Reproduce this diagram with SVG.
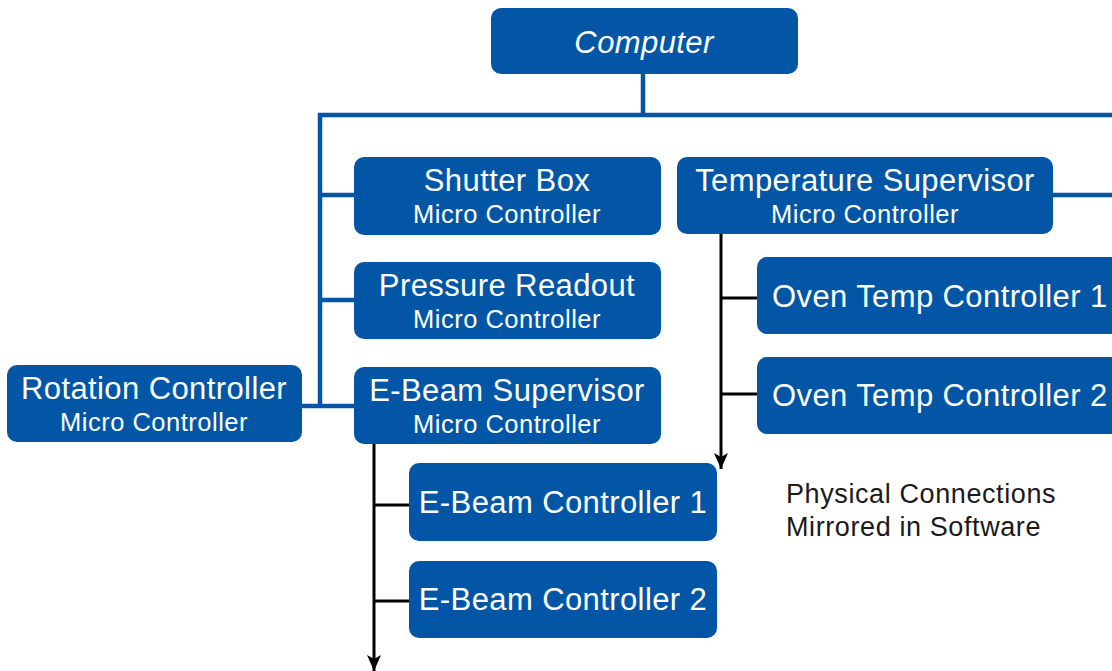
<svg xmlns="http://www.w3.org/2000/svg" width="1112" height="671" viewBox="0 0 1112 671">
<style>
.box{fill:#0256a5;}
.t{font-family:"Liberation Sans",Arial,sans-serif;fill:#fff;text-anchor:middle;}
.title{font-size:31px;letter-spacing:0.4px;}
.sub{font-size:25.5px;letter-spacing:0.5px;}
.blue{stroke:#0256a5;stroke-width:4.5;fill:none;}
.blk{stroke:#000;stroke-width:3;fill:none;}
.note{font-family:"Liberation Sans",Arial,sans-serif;font-size:27px;letter-spacing:0.6px;fill:#1a1a1a;}
</style>
<defs>
<marker id="arr" markerUnits="userSpaceOnUse" markerWidth="16" markerHeight="14" refX="16" refY="7" orient="auto">
<path d="M0,0 L16,7 L0,14 L4,7 Z" fill="#000"/>
</marker>
</defs>
<rect width="1112" height="671" fill="#fff"/>
<g id="connectors">
<line class="blue" x1="643" y1="74" x2="643" y2="115"/>
<line class="blue" x1="318" y1="115" x2="1112" y2="115"/>
<line class="blue" x1="320" y1="113" x2="320" y2="408"/>
<line class="blue" x1="320" y1="195" x2="354" y2="195"/>
<line class="blue" x1="320" y1="300" x2="354" y2="300"/>
<line class="blue" x1="302" y1="406" x2="354" y2="406"/>
<line class="blue" x1="1053" y1="195" x2="1112" y2="195"/>
<line class="blk" x1="374" y1="444" x2="374" y2="671" marker-end="url(#arr)"/>
<line class="blk" x1="374" y1="505" x2="410" y2="505"/>
<line class="blk" x1="374" y1="601" x2="410" y2="601"/>
<line class="blk" x1="721" y1="234" x2="721" y2="469" marker-end="url(#arr)"/>
<line class="blk" x1="721" y1="298" x2="758" y2="298"/>
<line class="blk" x1="721" y1="394" x2="758" y2="394"/>
</g>
<g id="computer">
<rect class="box" x="491" y="8" width="307" height="66" rx="10"/>
<text class="t title" x="644" y="53" font-style="italic">Computer</text>
</g>
<g id="shutter-box">
<rect class="box" x="354" y="157" width="307" height="78" rx="10"/>
<text class="t title" x="507" y="191">Shutter Box</text>
<text class="t sub" x="507" y="223">Micro Controller</text>
</g>
<g id="temperature-supervisor">
<rect class="box" x="677" y="157" width="376" height="77" rx="10"/>
<text class="t title" x="865" y="191">Temperature Supervisor</text>
<text class="t sub" x="865" y="223">Micro Controller</text>
</g>
<g id="pressure-readout">
<rect class="box" x="354" y="262" width="307" height="77" rx="10"/>
<text class="t title" x="507" y="296">Pressure Readout</text>
<text class="t sub" x="507" y="328">Micro Controller</text>
</g>
<g id="ebeam-supervisor">
<rect class="box" x="354" y="367" width="307" height="77" rx="10"/>
<text class="t title" x="507" y="401">E-Beam Supervisor</text>
<text class="t sub" x="507" y="433">Micro Controller</text>
</g>
<g id="rotation-controller">
<rect class="box" x="7" y="365" width="295" height="77" rx="10"/>
<text class="t title" x="154" y="399">Rotation Controller</text>
<text class="t sub" x="154" y="431">Micro Controller</text>
</g>
<g id="ebeam-controller-1">
<rect class="box" x="409" y="463" width="308" height="78" rx="10"/>
<text class="t title" x="563" y="513">E-Beam Controller 1</text>
</g>
<g id="ebeam-controller-2">
<rect class="box" x="409" y="561" width="308" height="77" rx="10"/>
<text class="t title" x="563" y="610">E-Beam Controller 2</text>
</g>
<g id="oven-temp-controller-1">
<rect class="box" x="757" y="257" width="380" height="77" rx="10"/>
<text class="t title" x="772" y="307" style="text-anchor:start">Oven Temp Controller 1</text>
</g>
<g id="oven-temp-controller-2">
<rect class="box" x="757" y="357" width="380" height="77" rx="10"/>
<text class="t title" x="772" y="406" style="text-anchor:start">Oven Temp Controller 2</text>
</g>
<g id="note">
<text class="note" x="786" y="503">Physical Connections</text>
<text class="note" x="786" y="536">Mirrored in Software</text>
</g>
</svg>
